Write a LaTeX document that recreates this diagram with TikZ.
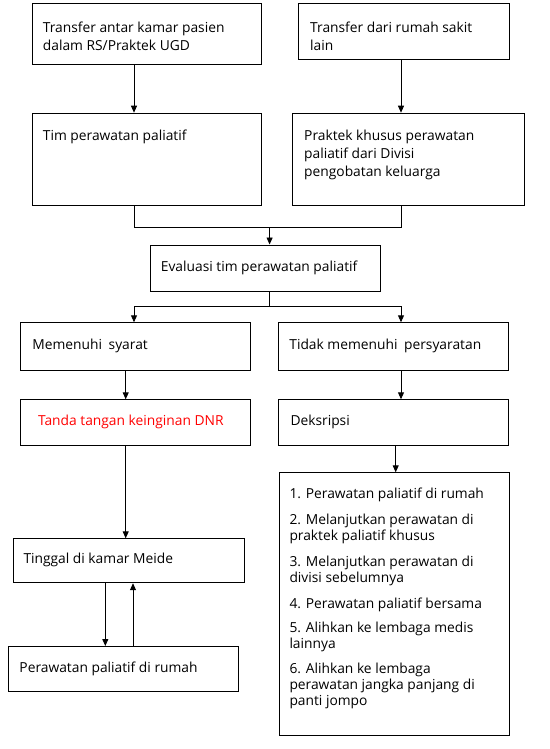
\documentclass[tikz,border=0pt]{standalone}
\usepackage{fontspec}
\setmainfont{Open Sans}
\usetikzlibrary{arrows.meta}
\begin{document}
\begin{tikzpicture}[x=1pt,y=-1pt,
  box/.style={draw, line width=0.9pt, inner sep=0pt, anchor=north west},
  txt/.style={inner sep=0pt, anchor=west, align=left, font=\fontsize{13.8}{18}\selectfont},
  ktxt/.style={inner sep=0pt, anchor=west, align=left, font=\fontsize{13.8}{16}\selectfont},
  arr/.style={-{Triangle[length=7pt,width=6pt]}, line width=0.9pt},
  ln/.style={line width=0.9pt}]
\fill[white] (0,0) rectangle (549,749);
\useasboundingbox (0,0) rectangle (549,749);
% boxes
\node[box, minimum width=229.5pt, minimum height=60.9pt] (a) at (31.5,3.5) {};
\node[box, minimum width=211pt, minimum height=55.7pt] (b) at (298,3.5) {};
\node[box, minimum width=229.5pt, minimum height=92.1pt] (c) at (31.5,112.7) {};
\node[box, minimum width=232pt, minimum height=92.1pt] (d) at (292,112.7) {};
\node[box, minimum width=230.5pt, minimum height=46.3pt] (e) at (149.5,244.5) {};
\node[box, minimum width=230pt, minimum height=47.3pt] (f) at (20.3,322.3) {};
\node[box, minimum width=230pt, minimum height=47.3pt] (g) at (278.4,322.3) {};
\node[box, minimum width=230pt, minimum height=45.9pt] (h) at (20.3,399.3) {};
\node[box, minimum width=230pt, minimum height=45.9pt] (i) at (278.4,399.3) {};
\node[box, minimum width=231pt, minimum height=44pt] (j) at (13.3,538.3) {};
\node[box, minimum width=229.7pt, minimum height=262.4pt] (k) at (279,472.3) {};
\node[box, minimum width=230pt, minimum height=45pt] (l) at (8.3,646) {};
% texts
\node[txt] (at) at (42.7,36.4) {Transfer antar kamar pasien\\dalam RS/Praktek UGD};
\node[txt] (bt) at (310,36.4) {Transfer dari rumah sakit\\lain};
\node[txt] (ct) at (42.7,136.6) {Tim perawatan paliatif};
\node[txt] (dt) at (304,154.6) {Praktek khusus perawatan\\paliatif dari Divisi\\pengobatan keluarga};
\node[txt] (et) at (160.7,268) {Evaluasi tim perawatan paliatif};
\node[txt] (ft) at (32.2,345.7) {Memenuhi\hspace{3pt} syarat};
\node[txt] (gt) at (289.2,345.7) {Tidak memenuhi\hspace{3pt} persyaratan};
\node[txt, text=red] (ht) at (37.8,422) {Tanda tangan keinginan DNR};
\node[txt] (it) at (290.3,422) {Deksripsi};
\node[txt] (jt) at (23.3,560) {Tinggal di kamar Meide};
\node[txt] (lt) at (19.3,669.3) {Perawatan paliatif di rumah};
\node[ktxt] (k1) at (289.3,494.7) {1. Perawatan paliatif di rumah};
\node[ktxt] (k2) at (289.3,528.9) {2. Melanjutkan perawatan di\\praktek paliatif khusus};
\node[ktxt] (k3) at (289.3,571) {3. Melanjutkan perawatan di\\divisi sebelumnya};
\node[ktxt] (k4) at (289.3,604.7) {4. Perawatan paliatif bersama};
\node[ktxt] (k5) at (289.3,636.5) {5. Alihkan ke lembaga medis\\lainnya};
\node[ktxt] (k6) at (289.3,686.2) {6. Alihkan ke lembaga\\perawatan jangka panjang di\\panti jompo};
% connectors
\draw[arr] (134,0 |- a.south) -- (134,0 |- c.north);
\draw[arr] (401,0 |- b.south) -- (401,0 |- d.north);
\coordinate (join) at (269.6,227);
\draw[ln] (134,0 |- c.south) -- (134,227) -- (401,227) -- (401,0 |- d.south);
\draw[arr] (join) -- (join |- e.north);
\coordinate (split) at (269.6,306);
\draw[ln] (split |- e.south) -- (split);
\draw[arr] (134,306) -| (134,0 |- f.north);
\draw[ln] (134,306) -- (401,306);
\draw[arr] (401,306) -- (401,0 |- g.north);
\draw[arr] (125.7,0 |- f.south) -- (125.7,0 |- h.north);
\draw[arr] (401,0 |- g.south) -- (401,0 |- i.north);
\draw[arr] (125.7,0 |- h.south) -- (125.7,0 |- j.north);
\draw[arr] (395.7,0 |- i.south) -- (395.7,0 |- k.north);
\draw[arr] (105.3,0 |- j.south) -- (105.3,0 |- l.north);
\draw[arr] (133,0 |- l.north) -- (133,0 |- j.south);
\end{tikzpicture}
\end{document}
